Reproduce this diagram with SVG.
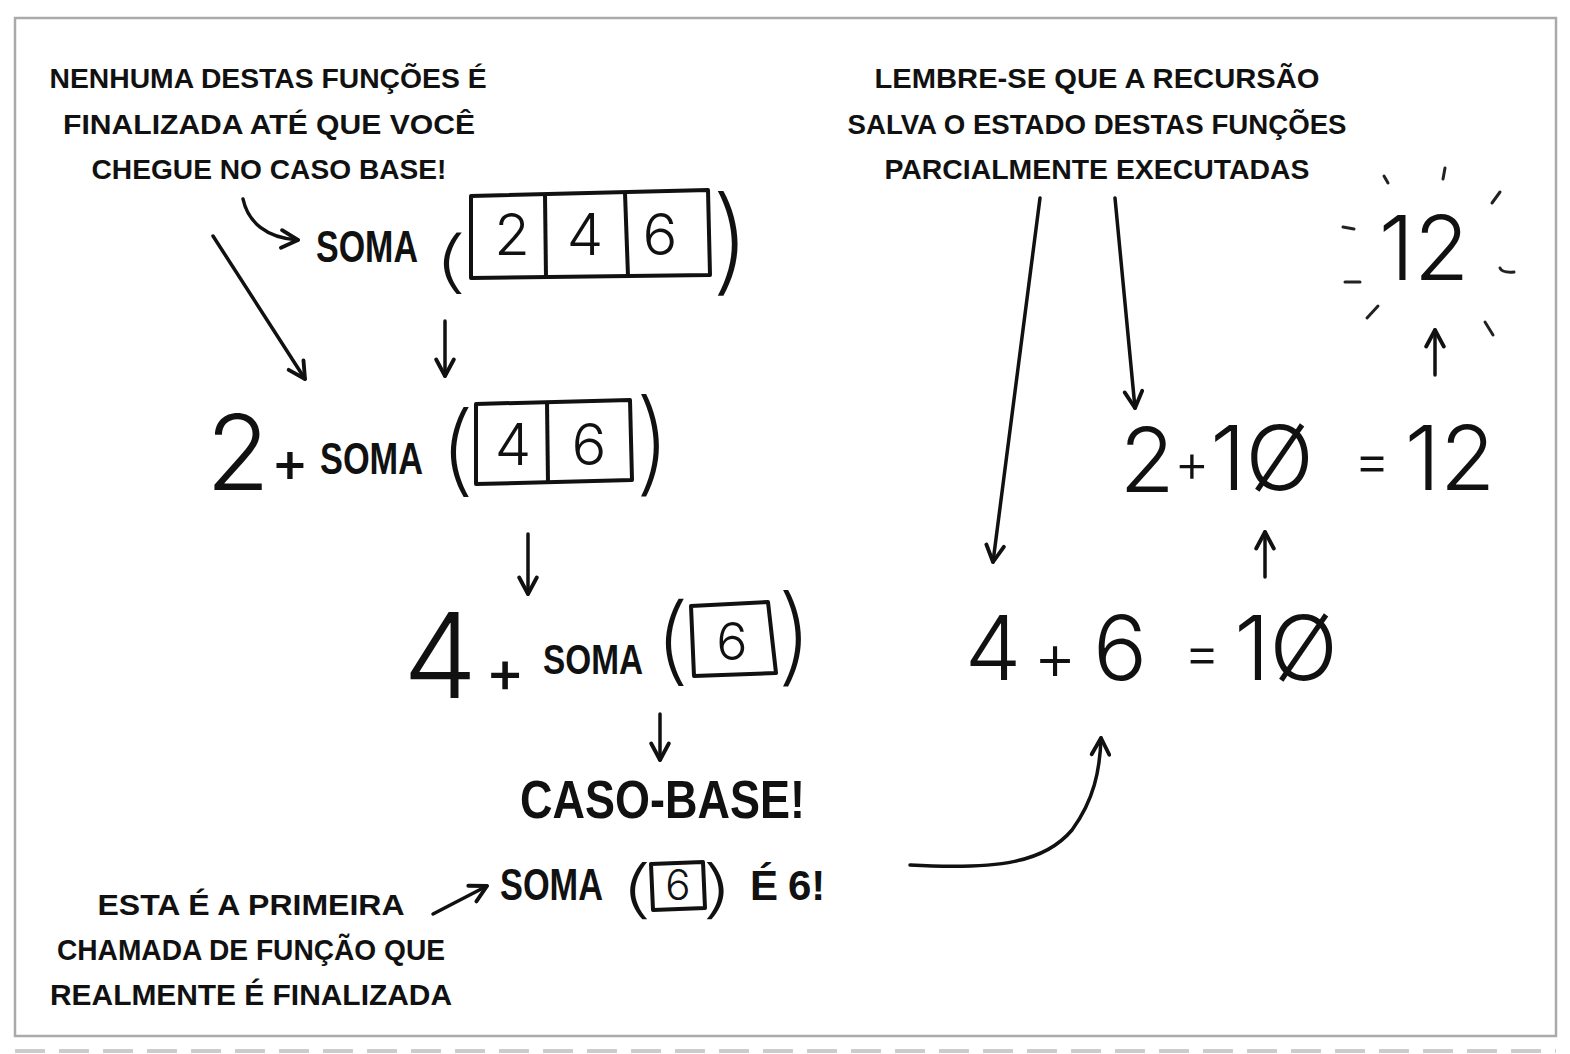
<svg xmlns="http://www.w3.org/2000/svg" width="1570" height="1054" viewBox="0 0 1570 1054">
<defs>
<style>
.cap{font-family:"Liberation Sans","DejaVu Sans",sans-serif;font-weight:bold;fill:#111;}
.soma{font-family:"Liberation Sans","DejaVu Sans",sans-serif;font-weight:bold;fill:#111;}
.num{font-family:"Inter","Open Sans","Lato",sans-serif;font-weight:300;fill:#111;}
.plus{font-family:"Inter","Open Sans","Lato",sans-serif;font-weight:500;fill:#111;}
.par{font-family:"Inter","Open Sans","Liberation Sans",sans-serif;font-weight:200;fill:#111;font-size:60px;}
.box{fill:none;stroke:#111;stroke-width:4;stroke-linejoin:round;}
.conn{fill:none;stroke:#111;stroke-width:3.5;stroke-linecap:round;}
.tick{fill:none;stroke:#222;stroke-width:3;stroke-linecap:round;}
</style>
<marker id="ah" viewBox="0 0 20 20" refX="18" refY="10" markerWidth="22" markerHeight="22" markerUnits="userSpaceOnUse" orient="auto">
<path d="M3,2 L18,10 L3,18" fill="none" stroke="#111" stroke-width="3.5" stroke-linecap="round" stroke-linejoin="round"/>
</marker>
</defs>
<rect x="0" y="0" width="1570" height="1054" fill="#fff"/>
<rect id="frame" x="15" y="18" width="1541" height="1018" fill="#fff" stroke="#aaa" stroke-width="2.5"/>
<line x1="15" y1="1051" x2="1556" y2="1051" stroke="#ccc" stroke-width="4" stroke-dasharray="30 14"/>

<g id="note-top-left">
<text class="cap" x="268" y="88" font-size="28" text-anchor="middle" textLength="437" lengthAdjust="spacingAndGlyphs">NENHUMA DESTAS FUNÇÕES É</text>
<text class="cap" x="269" y="134" font-size="28" text-anchor="middle" textLength="412" lengthAdjust="spacingAndGlyphs">FINALIZADA ATÉ QUE VOCÊ</text>
<text class="cap" x="269" y="179" font-size="28" text-anchor="middle" textLength="355" lengthAdjust="spacingAndGlyphs">CHEGUE NO CASO BASE!</text>
</g>

<g id="note-top-right">
<text class="cap" x="1097" y="88" font-size="28" text-anchor="middle" textLength="445" lengthAdjust="spacingAndGlyphs">LEMBRE-SE QUE A RECURSÃO</text>
<text class="cap" x="1097" y="134" font-size="28" text-anchor="middle" textLength="499" lengthAdjust="spacingAndGlyphs">SALVA O ESTADO DESTAS FUNÇÕES</text>
<text class="cap" x="1097" y="179" font-size="28" text-anchor="middle" textLength="425" lengthAdjust="spacingAndGlyphs">PARCIALMENTE EXECUTADAS</text>
</g>

<g id="call-1">
<text class="soma" x="316" y="262" font-size="44" textLength="102" lengthAdjust="spacingAndGlyphs">SOMA</text>
<text class="par" text-anchor="middle" transform="translate(450,285) scale(1.9,1.13)">(</text>
<polygon class="box" points="471,196 708,190 710,275 471,278"/>
<line class="box" x1="545" y1="195" x2="546" y2="278"/>
<line class="box" x1="625" y1="193" x2="628" y2="276"/>
<text class="num" x="512" y="255" font-size="58" text-anchor="middle">2</text>
<text class="num" x="585" y="255" font-size="58" text-anchor="middle">4</text>
<text class="num" x="660" y="255" font-size="58" text-anchor="middle">6</text>
<text class="par" text-anchor="middle" transform="translate(731,280) scale(2.1,1.92)">)</text>
</g>

<g id="call-2">
<text class="num" x="238" y="490" font-size="104" text-anchor="middle">2</text>
<text class="plus" x="290" y="482" font-size="56" text-anchor="middle">+</text>
<text class="soma" x="320" y="474" font-size="44" textLength="103" lengthAdjust="spacingAndGlyphs">SOMA</text>
<text class="par" text-anchor="middle" transform="translate(457,483) scale(1.9,1.65)">(</text>
<polygon class="box" points="476,404 630,400 632,480 476,484"/>
<line class="box" x1="547" y1="402" x2="548" y2="483"/>
<text class="num" x="513" y="465" font-size="58" text-anchor="middle">4</text>
<text class="num" x="589" y="465" font-size="58" text-anchor="middle">6</text>
<text class="par" text-anchor="middle" transform="translate(653,481) scale(1.9,1.88)">)</text>
</g>

<g id="call-3">
<text class="num" x="440" y="698" font-size="118" text-anchor="middle">4</text>
<text class="plus" x="505" y="692" font-size="58" text-anchor="middle">+</text>
<text class="soma" x="543" y="674" font-size="42" textLength="100" lengthAdjust="spacingAndGlyphs">SOMA</text>
<text class="par" text-anchor="middle" transform="translate(672,673) scale(1.9,1.6)">(</text>
<polygon class="box" points="691,606 768,602 776,673 694,676"/>
<text class="num" x="732" y="660" font-size="52" text-anchor="middle">6</text>
<text class="par" text-anchor="middle" transform="translate(795,672) scale(1.9,1.77)">)</text>
</g>

<g id="base-case">
<text class="cap" x="520" y="818" font-size="54" textLength="285" lengthAdjust="spacingAndGlyphs">CASO-BASE!</text>
</g>

<g id="base-result">
<text class="soma" x="500" y="900" font-size="44" textLength="103" lengthAdjust="spacingAndGlyphs">SOMA</text>
<text class="par" text-anchor="middle" transform="translate(636,911) scale(1.8,1.05)">(</text>
<polygon class="box" points="651,864 703,862 705,908 653,910"/>
<text class="num" x="678" y="900" font-size="42" text-anchor="middle">6</text>
<text class="par" text-anchor="middle" transform="translate(718,911) scale(1.8,1.05)">)</text>
<text class="cap" x="750" y="900" font-size="42">É</text>
<text class="cap" x="788" y="900" font-size="42">6!</text>
</g>

<g id="note-bottom-left">
<text class="cap" x="251" y="915" font-size="30" text-anchor="middle" textLength="307" lengthAdjust="spacingAndGlyphs">ESTA É A PRIMEIRA</text>
<text class="cap" x="251" y="960" font-size="30" text-anchor="middle" textLength="388" lengthAdjust="spacingAndGlyphs">CHAMADA DE FUNÇÃO QUE</text>
<text class="cap" x="251" y="1005" font-size="30" text-anchor="middle" textLength="402" lengthAdjust="spacingAndGlyphs">REALMENTE É FINALIZADA</text>
</g>

<g id="sum-4-6">
<text class="num" x="993" y="680" font-size="90" text-anchor="middle">4</text>
<text class="num" x="1055" y="680" font-size="66" text-anchor="middle">+</text>
<text class="num" x="1120" y="680" font-size="90" text-anchor="middle">6</text>
<text class="num" x="1202" y="672" font-size="56" text-anchor="middle">=</text>
<text class="num" x="1286" y="680" font-size="90" text-anchor="middle">1Ø</text>
</g>

<g id="sum-2-10">
<text class="num" x="1147" y="492" font-size="90" text-anchor="middle">2</text>
<text class="num" x="1192" y="482" font-size="54" text-anchor="middle">+</text>
<text class="num" x="1262" y="490" font-size="90" text-anchor="middle">1Ø</text>
<text class="num" x="1372" y="480" font-size="56" text-anchor="middle">=</text>
<text class="num" x="1450" y="490" font-size="90" text-anchor="middle">12</text>
</g>

<g id="result-12">
<text class="num" x="1424" y="280" font-size="90" text-anchor="middle">12</text>
<g class="tick">
<line x1="1384" y1="176" x2="1388" y2="183"/>
<line x1="1445" y1="168" x2="1443" y2="179"/>
<line x1="1492" y1="203" x2="1500" y2="192"/>
<line x1="1343" y1="227" x2="1354" y2="229"/>
<line x1="1345" y1="282" x2="1360" y2="282"/>
<path d="M1500,268 Q1502,273 1514,272"/>
<line x1="1367" y1="318" x2="1378" y2="306"/>
<line x1="1485" y1="322" x2="1493" y2="335"/>
</g>
</g>

<g id="connectors">
<path class="conn" marker-end="url(#ah)" d="M243,199 C248,222 266,238 298,240"/>
<path class="conn" marker-end="url(#ah)" d="M213,236 L305,379"/>
<path class="conn" marker-end="url(#ah)" d="M445,321 L445,376"/>
<path class="conn" marker-end="url(#ah)" d="M528,534 L528,594"/>
<path class="conn" marker-end="url(#ah)" d="M660,714 L660,760"/>
<path class="conn" marker-end="url(#ah)" d="M433,914 L487,886"/>
<path class="conn" stroke-width="5" marker-end="url(#ah)" d="M910,865 C1000,870 1045,862 1072,830 C1094,800 1100,770 1101,738"/>
<path class="conn" marker-end="url(#ah)" d="M1040,198 L993,562"/>
<path class="conn" marker-end="url(#ah)" d="M1115,198 L1135,408"/>
<path class="conn" marker-end="url(#ah)" d="M1265,577 L1265,532"/>
<path class="conn" marker-end="url(#ah)" d="M1435,375 L1435,330"/>
</g>
</svg>
